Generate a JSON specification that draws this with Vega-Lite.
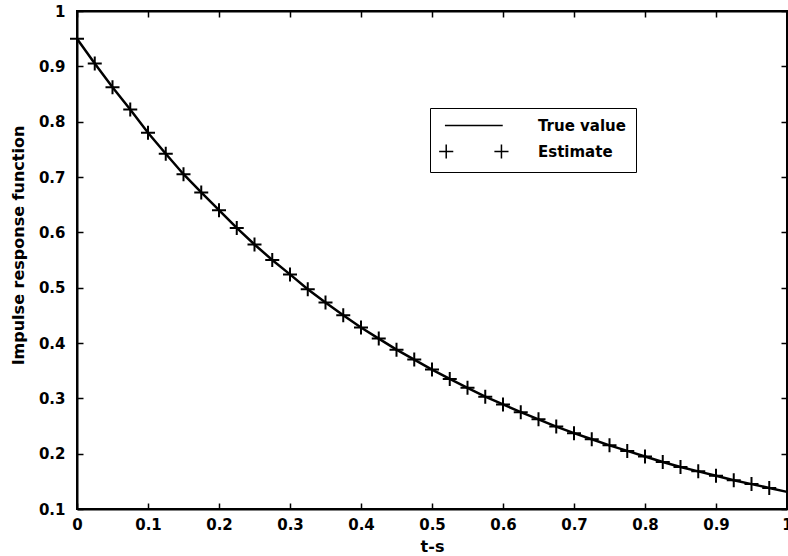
{
  "$schema": "https://vega.github.io/schema/vega-lite/v6.json",
  "width": 710,
  "height": 498,
  "autosize": {"type": "none"},
  "padding": {"left": 77, "top": 11, "right": 1, "bottom": 47},
  "background": "white",
  "config": {
    "view": {"stroke": "black", "strokeWidth": 2},
    "font": "DejaVu Sans",
    "axis": {
      "grid": false,
      "domainColor": "black",
      "domainWidth": 2,
      "tickColor": "black",
      "tickWidth": 1.5,
      "tickSize": -6,
      "labelFont": "DejaVu Sans",
      "labelFontWeight": "bold",
      "labelFontSize": 15,
      "labelColor": "black",
      "titleFont": "DejaVu Sans",
      "titleFontWeight": "bold",
      "titleFontSize": 16,
      "titleColor": "black"
    }
  },
  "datasets": {
    "curve": [
      {"t": 0.0, "y": 0.950},
      {"t": 0.025, "y": 0.905},
      {"t": 0.05, "y": 0.862},
      {"t": 0.075, "y": 0.822},
      {"t": 0.1, "y": 0.780},
      {"t": 0.125, "y": 0.742},
      {"t": 0.15, "y": 0.705},
      {"t": 0.175, "y": 0.672},
      {"t": 0.2, "y": 0.640},
      {"t": 0.225, "y": 0.608},
      {"t": 0.25, "y": 0.578},
      {"t": 0.275, "y": 0.550},
      {"t": 0.3, "y": 0.524},
      {"t": 0.325, "y": 0.497},
      {"t": 0.35, "y": 0.473},
      {"t": 0.375, "y": 0.450},
      {"t": 0.4, "y": 0.428},
      {"t": 0.425, "y": 0.408},
      {"t": 0.45, "y": 0.388},
      {"t": 0.475, "y": 0.370},
      {"t": 0.5, "y": 0.352},
      {"t": 0.525, "y": 0.335},
      {"t": 0.55, "y": 0.319},
      {"t": 0.575, "y": 0.303},
      {"t": 0.6, "y": 0.289},
      {"t": 0.625, "y": 0.275},
      {"t": 0.65, "y": 0.262},
      {"t": 0.675, "y": 0.249},
      {"t": 0.7, "y": 0.237},
      {"t": 0.725, "y": 0.226},
      {"t": 0.75, "y": 0.215},
      {"t": 0.775, "y": 0.205},
      {"t": 0.8, "y": 0.195},
      {"t": 0.825, "y": 0.185},
      {"t": 0.85, "y": 0.176},
      {"t": 0.875, "y": 0.168},
      {"t": 0.9, "y": 0.160},
      {"t": 0.925, "y": 0.152},
      {"t": 0.95, "y": 0.145},
      {"t": 0.975, "y": 0.138},
      {"t": 1.0, "y": 0.131}
    ]
  },
  "data": {"name": "curve"},
  "layer": [
    {
      "mark": {"type": "line", "color": "black", "strokeWidth": 2.5},
      "encoding": {
        "x": {
          "field": "t", "type": "quantitative",
          "scale": {"domain": [0, 1], "nice": false, "zero": false},
          "axis": {"values": [0, 0.1, 0.2, 0.3, 0.4, 0.5, 0.6, 0.7, 0.8, 0.9, 1], "format": "~g", "title": "t-s", "labelPadding": 14, "titlePadding": 6, "labelFlush": false}
        },
        "y": {
          "field": "y", "type": "quantitative",
          "scale": {"domain": [0.1, 1], "nice": false, "zero": false},
          "axis": {"values": [0.1, 0.2, 0.3, 0.4, 0.5, 0.6, 0.7, 0.8, 0.9, 1], "format": "~g", "title": "Impulse response function", "titleFontSize": 16, "titleY": 234, "labelPadding": 18, "titlePadding": 12, "labelFlush": false}
        }
      }
    },
    {
      "transform": [{"filter": "datum.t < 0.99"}],
      "mark": {"type": "point", "filled": false, "stroke": "black", "strokeWidth": 2, "size": 196, "opacity": 1, "shape": "M-1,0H1M0,-1V1"},
      "encoding": {
        "x": {
          "field": "t", "type": "quantitative",
          "axis": {"orient": "top", "values": [0, 0.1, 0.2, 0.3, 0.4, 0.5, 0.6, 0.7, 0.8, 0.9, 1], "labels": false, "title": null}
        },
        "y": {
          "field": "y", "type": "quantitative",
          "axis": {"orient": "right", "values": [0.1, 0.2, 0.3, 0.4, 0.5, 0.6, 0.7, 0.8, 0.9, 1], "labels": false, "title": null}
        }
      }
    },
    {
      "transform": [{"filter": "datum.t > 5"}],
      "mark": {"type": "point", "filled": false, "stroke": "black", "strokeWidth": 1.5, "opacity": 1},
      "encoding": {
        "x": {"field": "t", "type": "quantitative", "axis": null},
        "y": {"field": "y", "type": "quantitative", "axis": null},
        "shape": {
          "datum": "Estimate",
          "scale": {"domain": ["True value", "Estimate"], "range": ["M-0.4,0H8.6", "M-1.3,0H0.9M-0.2,-1.1V1.1M7.3,0H9.5M8.4,-1.1V1.1"]},
          "legend": {
            "title": null,
            "orient": "none",
            "legendX": 353,
            "legendY": 97,
            "padding": 10,
            "rowPadding": 7,
            "strokeColor": "black",
            "fillColor": "white",
            "symbolSize": 165,
            "symbolStrokeColor": "black",
            "symbolStrokeWidth": 1.5,
            "symbolFillColor": "transparent",
            "labelFont": "DejaVu Sans",
            "labelFontWeight": "bold",
            "labelFontSize": 15,
            "labelColor": "black",
            "labelOffset": 83,
            "labelLimit": 300
          }
        }
      }
    }
  ],
  "resolve": {"axis": {"x": "independent", "y": "independent"}}
}
